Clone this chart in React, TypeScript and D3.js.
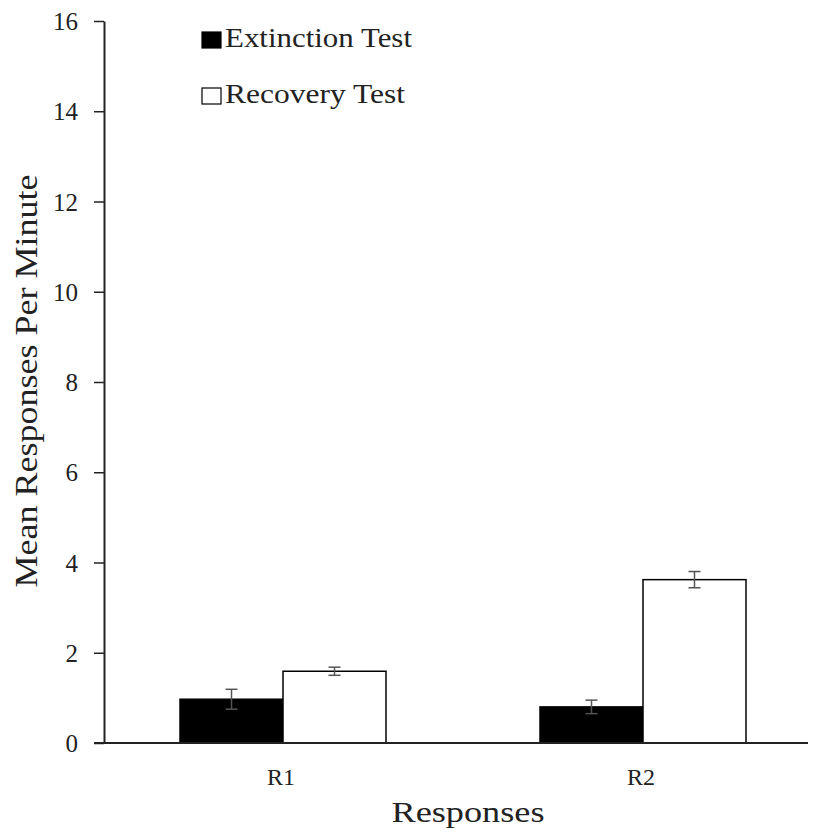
import React, { useEffect, useRef } from 'react';
import * as d3 from 'd3';

const categories = ['R1', 'R2'];
const seriesNames = ['Extinction Test', 'Recovery Test'];
const extinctionMeans = [0.97, 0.8];
const extinctionErr = [0.22, 0.15];
const recoveryMeans = [1.59, 3.62];
const recoveryErr = [0.09, 0.18];
const yTicks = [0, 2, 4, 6, 8, 10, 12, 14, 16];

const fills = ['#000000', '#ffffff'];

export default function App() {
  const ref = useRef<SVGSVGElement>(null);

  useEffect(() => {
    const svg = d3.select(ref.current);
    svg.selectAll('*').remove();

    const width = 816;
    const height = 836;
    const left = 104;
    const bottom = 743;
    const top = 21;
    const font = "'Liberation Serif', 'Times New Roman', serif";

    const y = d3.scaleLinear().domain([0, 16]).range([bottom, top]);
    const x0 = d3.scaleBand().domain(categories).range([103, 823]);
    const x1 = d3.scaleBand().domain(seriesNames).range([0, 206]);

    // one row per bar
    const rows = categories.flatMap((c, i) => [
      { cat: c, series: seriesNames[0], v: extinctionMeans[i], e: extinctionErr[i] },
      { cat: c, series: seriesNames[1], v: recoveryMeans[i], e: recoveryErr[i] },
    ]);
    const barX = (d: any) => x0(d.cat)! + x0.bandwidth() / 2 - 103 + x1(d.series)!;

    svg.append('rect').attr('width', width).attr('height', height).attr('fill', '#fff');

    // bars
    svg.selectAll('rect.bar')
      .data(rows)
      .join('rect')
      .attr('class', 'bar')
      .attr('x', d => barX(d))
      .attr('y', d => y(d.v))
      .attr('width', x1.bandwidth())
      .attr('height', d => bottom - y(d.v))
      .attr('fill', d => fills[seriesNames.indexOf(d.series)])
      .attr('stroke', '#000')
      .attr('stroke-width', 1.5);

    // error bars
    const eb = svg.append('g').attr('stroke', '#555').attr('stroke-width', 1.5);
    rows.forEach(d => {
      const cx = barX(d) + x1.bandwidth() / 2;
      const y1 = y(d.v + d.e);
      const y2 = y(d.v - d.e);
      eb.append('line').attr('x1', cx).attr('x2', cx).attr('y1', y1).attr('y2', y2);
      eb.append('line').attr('x1', cx - 6).attr('x2', cx + 6).attr('y1', y1).attr('y2', y1);
      eb.append('line').attr('x1', cx - 6).attr('x2', cx + 6).attr('y1', y2).attr('y2', y2);
    });

    // y axis
    const yAxis = svg.append('g')
      .attr('transform', `translate(${left},0)`)
      .call(d3.axisLeft(y).tickValues(yTicks).tickSize(10).tickSizeOuter(0).tickPadding(16));
    yAxis.select('.domain').attr('stroke', '#222').attr('stroke-width', 2);
    yAxis.selectAll('.tick line').attr('stroke', '#222').attr('stroke-width', 1.5);
    yAxis.selectAll('.tick text')
      .attr('font-family', font).attr('font-size', 25).attr('fill', '#222')
      .attr('dy', '0.34em');

    // x axis baseline
    svg.append('line')
      .attr('x1', 94).attr('x2', width).attr('y1', bottom).attr('y2', bottom)
      .attr('stroke', '#222').attr('stroke-width', 2);

    svg.selectAll('text.cat')
      .data(categories)
      .join('text')
      .attr('class', 'cat')
      .attr('x', d => x0(d)! + x0.bandwidth() / 2 - 2)
      .attr('y', 785)
      .attr('text-anchor', 'middle')
      .attr('font-family', font).attr('font-size', 24).attr('fill', '#222')
      .text(d => d);

    svg.append('text')
      .attr('x', 468).attr('y', 822)
      .attr('text-anchor', 'middle')
      .attr('font-family', font).attr('font-size', 30).attr('fill', '#222')
      .attr('textLength', 153).attr('lengthAdjust', 'spacingAndGlyphs')
      .text('Responses');

    svg.append('text')
      .attr('transform', 'translate(37,381) rotate(-90)')
      .attr('text-anchor', 'middle')
      .attr('font-family', font).attr('font-size', 31).attr('fill', '#222')
      .attr('textLength', 413).attr('lengthAdjust', 'spacingAndGlyphs')
      .text('Mean Responses Per Minute');

    // legend
    const lg = svg.append('g');
    const legendLen = [187, 180];
    seriesNames.forEach((s, i) => {
      const yy = 32 + i * 56;
      lg.append('rect')
        .attr('x', 202).attr('y', yy).attr('width', 19).attr('height', 16)
        .attr('fill', fills[i]).attr('stroke', '#000').attr('stroke-width', 1.2);
      lg.append('text')
        .attr('x', 225).attr('y', yy + 15)
        .attr('font-family', font).attr('font-size', 27).attr('fill', '#222')
        .attr('textLength', legendLen[i]).attr('lengthAdjust', 'spacingAndGlyphs')
        .text(s);
    });
  }, []);

  return <svg ref={ref} width={816} height={836} style={{ display: 'block', margin: -8 }} />;
}
